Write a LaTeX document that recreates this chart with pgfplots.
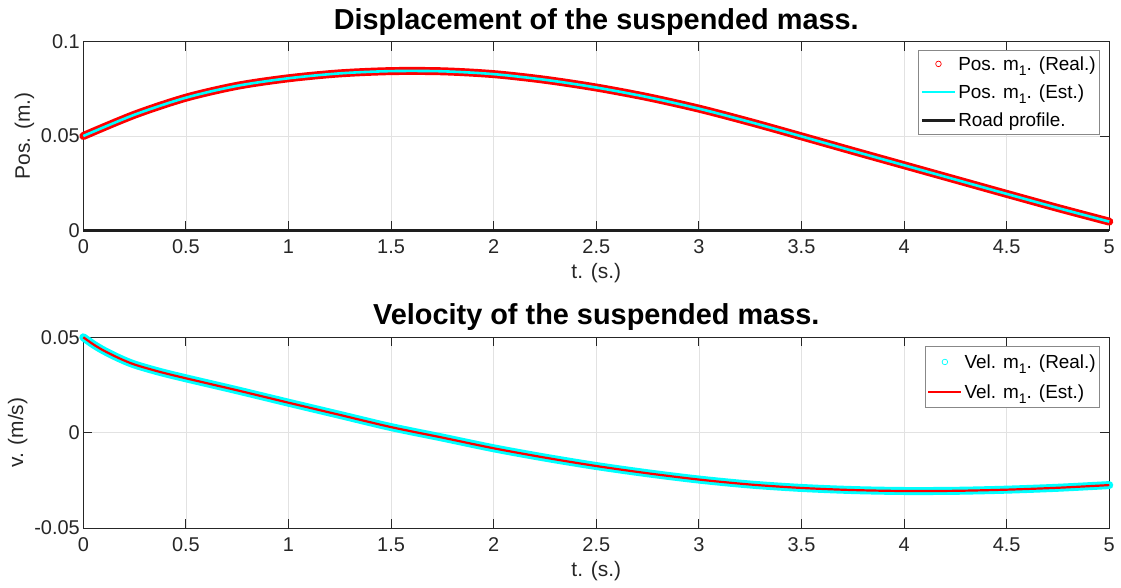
\documentclass[border=0pt]{standalone}
\usepackage{fontspec}
\setmainfont{Liberation Sans}
\usepackage{pgfplots}
\usepackage{pgfplotstable}
\pgfplotsset{compat=1.18}

\definecolor{axcol}{RGB}{38,38,38}
\definecolor{gridcol}{RGB}{226,226,226}
\definecolor{mlred}{RGB}{255,0,0}
\definecolor{mlcyan}{RGB}{0,255,255}
\definecolor{roadcol}{RGB}{30,30,30}

% subscript set low and small, as in the legend entries
\newcommand{\sub}[1]{\raisebox{-5bp}{\fontsize{14}{14}\selectfont #1}}

% Position of m1 (m) over time (s)
\pgfplotstableread{
t     y
0     0.0500
0.25  0.0613
0.5   0.0703
0.75  0.0766
1     0.0806
1.25  0.0832
1.5   0.0844
1.75  0.0843
2     0.0828
2.25  0.0798
2.5   0.0757
2.75  0.0706
3     0.0645
3.25  0.0574
3.5   0.0498
3.75  0.0421
4     0.0345
4.25  0.0269
4.5   0.0193
4.75  0.0118
5     0.0046
}\postable

% Velocity of m1 (m/s) over time (s)
\pgfplotstableread{
t      v
0      0.0500
0.05   0.0462
0.1    0.0430
0.175  0.0390
0.25   0.0357
0.375  0.0318
0.5    0.0285
0.75   0.0222
1      0.0157
1.25   0.0093
1.5    0.0029
1.75   -0.0026
2      -0.0082
2.25   -0.0131
2.5    -0.0175
2.75   -0.0213
3      -0.0246
3.25   -0.0272
3.5    -0.0290
3.75   -0.0301
4      -0.0306
4.25   -0.0305
4.5    -0.0299
4.75   -0.0289
5      -0.0275
}\veltable

\pgfplotsset{
  mlaxis/.style={
    scale only axis,
    width=1026bp,
    xmin=0, xmax=5,
    xtick={0,0.5,1,1.5,2,2.5,3,3.5,4,4.5,5},
    xticklabels={0,0.5,1,1.5,2,2.5,3,3.5,4,4.5,5},
    scaled ticks=false,
    tick align=inside,
    tick pos=both,
    ticklabel pos=left,
    major tick length=9bp,
    grid=major,
    grid style={color=gridcol, line width=0.7bp},
    axis line style={color=axcol, line width=0.8bp},
    tick style={color=axcol, line width=0.8bp},
    ticklabel style={font=\fontsize{20}{23}\selectfont, text=axcol},
    xticklabel style={yshift=-6bp},
    label style={font=\fontsize{21}{24}\selectfont, text=axcol},
    xlabel style={yshift=-3bp},
    title style={font=\bfseries\fontsize{29}{33}\selectfont, yshift=-3bp},
    xlabel={t. (s.)},
    clip=false,
    legend cell align=left,
    legend style={
      font=\fontsize{19}{22}\selectfont,
      draw=axcol!55, line width=0.6bp, fill=white,
      anchor=north east,
      inner xsep=2bp, inner ysep=4bp, row sep=9bp,
    },
  },
  lineimg/.style={legend image code/.code={\draw[#1] (0bp,0bp) -- (33bp,0bp);}},
  markimg/.style={legend image code/.code={%
    \path[draw=none, fill=none] (0bp,0bp) -- (33bp,0bp);
    \draw[#1] plot coordinates {(16.5bp,0bp)};}},
}

\begin{document}
\begin{tikzpicture}
\useasboundingbox (0,0) rectangle (1121bp,588bp);

% Upper panel: displacement
\begin{axis}[mlaxis,
  at={(83.3bp,357.7bp)}, anchor=south west,
  height=188.6bp,
  ymin=0, ymax=0.1,
  ytick={0,0.05,0.1}, yticklabels={0,0.05,0.1},
  ylabel={Pos. (m.)},
  title={Displacement of the suspended mass.},
  legend style={at={(0.991,0.956)}},
]
\addplot[mlred, line width=8bp, line cap=round, smooth,
  markimg={mlred, mark=o, mark size=2.8bp, line width=0.7bp}]
  table[x=t, y=y] {\postable};
\addlegendentry{Pos. m\sub{1}. (Real.)}
\addplot[mlcyan, line width=2.6bp, smooth,
  lineimg={mlcyan, line width=2.6bp}]
  table[x=t, y=y] {\postable};
\addlegendentry{Pos. m\sub{1}. (Est.)}
\addplot[roadcol, line width=2.6bp,
  lineimg={roadcol, line width=2.6bp}]
  coordinates {(0,0) (5,0)};
\addlegendentry{Road profile.}
\end{axis}

% Lower panel: velocity
\begin{axis}[mlaxis,
  at={(83.3bp,60bp)}, anchor=south west,
  height=190.7bp,
  ymin=-0.05, ymax=0.05,
  ytick={-0.05,0,0.05}, yticklabels={-0.05,0,0.05},
  ylabel={v. (m/s)},
  title={Velocity of the suspended mass.},
  legend style={at={(0.991,0.954)}, row sep=11bp, inner ysep=6bp},
]
\addplot[mlcyan, line width=8bp, line cap=round, smooth,
  markimg={mlcyan, mark=o, mark size=2.8bp, line width=0.7bp}]
  table[x=t, y=v] {\veltable};
\addlegendentry{Vel. m\sub{1}. (Real.)}
\addplot[mlred, line width=2.2bp, smooth,
  lineimg={mlred, line width=2.4bp}]
  table[x=t, y=v] {\veltable};
\addlegendentry{Vel. m\sub{1}. (Est.)}
\end{axis}
\end{tikzpicture}
\end{document}
